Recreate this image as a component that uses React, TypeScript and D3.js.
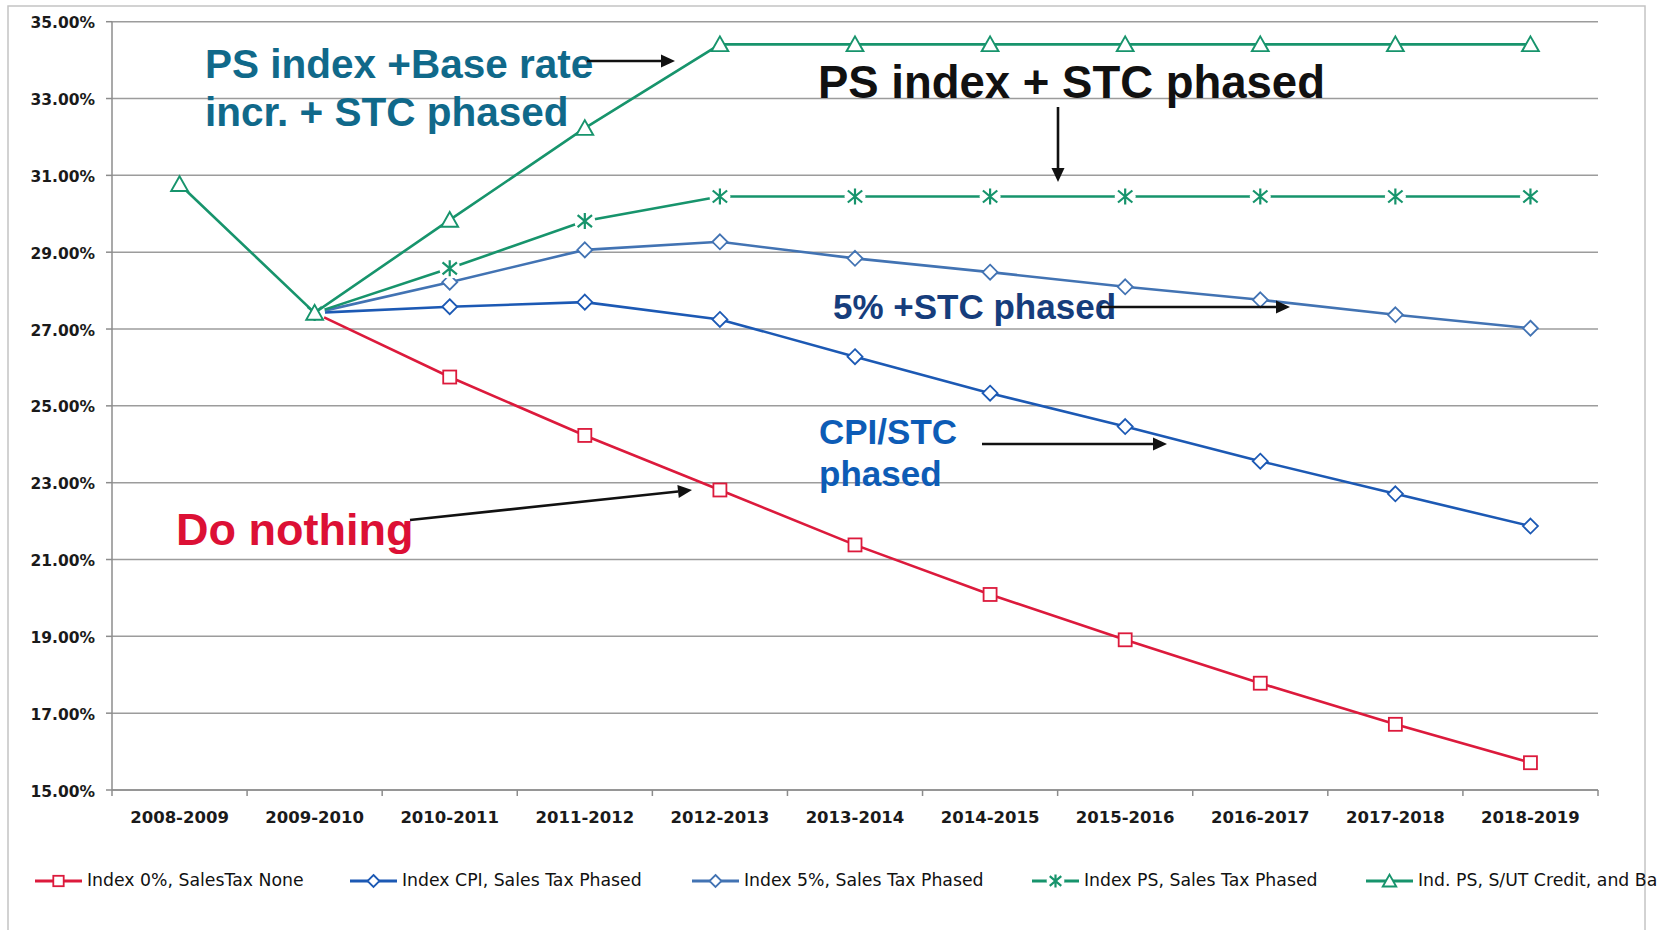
import React from "react";
import * as d3 from "d3";

const categories = [
  "2008-2009", "2009-2010", "2010-2011", "2011-2012", "2012-2013", "2013-2014",
  "2014-2015", "2015-2016", "2016-2017", "2017-2018", "2018-2019",
];
const index0 = [null, 27.42, 25.75, 24.23, 22.81, 21.38, 20.09, 18.91, 17.78, 16.71, 15.71];
const indexCPI = [null, 27.42, 27.58, 27.7, 27.25, 26.28, 25.33, 24.46, 23.56, 22.71, 21.87];
const index5 = [null, 27.42, 28.22, 29.06, 29.27, 28.84, 28.48, 28.1, 27.76, 27.37, 27.02];
const indexPS = [null, 27.42, 28.58, 29.81, 30.45, 30.45, 30.45, 30.45, 30.45, 30.45, 30.45];
const indPSCredit = [30.77, 27.42, 29.84, 32.23, 34.41, 34.41, 34.41, 34.41, 34.41, 34.41, 34.41];
const yTicks = [15, 17, 19, 21, 23, 25, 27, 29, 31, 33, 35];

const seriesNames = [
  "Index 0%, SalesTax None",
  "Index CPI, Sales Tax Phased",
  "Index 5%, Sales Tax Phased",
  "Index PS, Sales Tax Phased",
  "Ind. PS, S/UT Credit, and Ba",
];
const seriesValues = [index0, indexCPI, index5, indexPS, indPSCredit];
const seriesColors = ["#dc1a3c", "#1c59b4", "#4273b3", "#17946c", "#17946c"];
const seriesMarkers = ["square", "diamond", "diamond", "asterisk", "triangle"];

const W = 1665;
const H = 930;
const M = { left: 112, right: 1598, top: 21.7, bottom: 790 };
const legendX = [35, 350, 692, 1032, 1366];
const legendY = 881;

function Marker({ type, x, y, color, s = 1 }: { type: string; x: number; y: number; color: string; s?: number }) {
  if (type === "square") {
    const h = 6.5 * s;
    return <rect x={x - h} y={y - h} width={2 * h} height={2 * h} fill="#fff" stroke={color} strokeWidth={1.8} />;
  }
  if (type === "diamond") {
    const h = 7.5 * s;
    return (
      <path d={`M${x},${y - h}L${x + h},${y}L${x},${y + h}L${x - h},${y}Z`} fill="#fff" stroke={color} strokeWidth={1.8} />
    );
  }
  if (type === "triangle") {
    const h = 8 * s;
    return (
      <path d={`M${x},${y - h}L${x + h * 1.05},${y + h * 0.85}L${x - h * 1.05},${y + h * 0.85}Z`} fill="#fff" stroke={color} strokeWidth={1.9} />
    );
  }
  // asterisk
  const h = 8 * s;
  return (
    <g>
      <circle cx={x} cy={y} r={h + 2.5} fill="#fff" />
      <path
        d={`M${x},${y - h}L${x},${y + h}M${x - h * 0.9},${y - h * 0.75}L${x + h * 0.9},${y + h * 0.75}M${x - h * 0.9},${y + h * 0.75}L${x + h * 0.9},${y - h * 0.75}`}
        stroke={color}
        strokeWidth={2.2}
        fill="none"
      />
    </g>
  );
}

function Arrow({ x1, y1, x2, y2 }: { x1: number; y1: number; x2: number; y2: number }) {
  const ang = Math.atan2(y2 - y1, x2 - x1);
  const L = 14;
  const Wd = 6.5;
  const bx = x2 - L * Math.cos(ang);
  const by = y2 - L * Math.sin(ang);
  const px = -Math.sin(ang) * Wd;
  const py = Math.cos(ang) * Wd;
  return (
    <g>
      <line x1={x1} y1={y1} x2={bx} y2={by} stroke="#111" strokeWidth={2.6} />
      <path d={`M${x2},${y2}L${bx + px},${by + py}L${bx - px},${by - py}Z`} fill="#111" />
    </g>
  );
}

export default function App() {
  const x = d3.scaleBand<string>().domain(categories).range([M.left, M.right]).padding(0);
  const cx = (c: string) => (x(c) as number) + x.bandwidth() / 2;
  const y = d3.scaleLinear().domain([15, 35]).range([M.bottom, M.top]);

  const line = d3
    .line<number | null>()
    .defined((d) => d != null)
    .x((_, i) => cx(categories[i]))
    .y((d) => y(d as number));

  const tickXs = categories.map((c) => x(c) as number).concat([M.right]);
  const annFont = "'Liberation Sans', Arial, sans-serif";
  const axisFont = "'DejaVu Sans', Verdana, sans-serif";

  return (
    <svg width={W} height={H} style={{ position: "absolute", left: 0, top: 0, background: "#fff" }}>
      <rect x={0} y={0} width={W} height={H} fill="#fff" />
      <rect x={8} y={6} width={1637} height={940} fill="none" stroke="#c4c4c4" strokeWidth={1.5} />

      {/* gridlines */}
      {yTicks.map((t) => (
        <line key={t} x1={M.left} x2={M.right} y1={y(t)} y2={y(t)} stroke="#9c9c9c" strokeWidth={1.5} />
      ))}
      {/* y axis */}
      <line x1={M.left} x2={M.left} y1={M.top} y2={M.bottom} stroke="#8c8c8c" strokeWidth={1.5} />
      {yTicks.map((t) => (
        <g key={"yt" + t}>
          <line x1={M.left - 6} x2={M.left} y1={y(t)} y2={y(t)} stroke="#8c8c8c" strokeWidth={1.5} />
          <text
            x={95}
            y={y(t) + 2}
            textAnchor="end"
            dominantBaseline="middle"
            fontFamily={axisFont}
            fontWeight="bold"
            fontSize={15.5}
            fill="#1a1a1a"
          >
            {t.toFixed(2)}%
          </text>
        </g>
      ))}
      {/* x axis */}
      <line x1={M.left} x2={M.right} y1={M.bottom} y2={M.bottom} stroke="#8c8c8c" strokeWidth={1.5} />
      {tickXs.map((tx, i) => (
        <line key={"xt" + i} x1={tx} x2={tx} y1={M.bottom} y2={M.bottom + 6} stroke="#8c8c8c" strokeWidth={1.5} />
      ))}
      {categories.map((c) => (
        <text
          key={c}
          x={cx(c)}
          y={818}
          textAnchor="middle"
          dominantBaseline="middle"
          fontFamily={axisFont}
          fontWeight="bold"
          fontSize={16.5}
          fill="#1a1a1a"
        >
          {c}
        </text>
      ))}

      {/* series */}
      {seriesValues.map((vals, si) => (
        <g key={"s" + si}>
          <path d={line(vals) || ""} fill="none" stroke={seriesColors[si]} strokeWidth={2.6} />
          {vals.map((v, i) =>
            v == null ? null : (
              <Marker key={i} type={seriesMarkers[si]} x={cx(categories[i])} y={y(v)} color={seriesColors[si]} />
            )
          )}
        </g>
      ))}

      {/* annotations */}
      <g fontFamily={annFont} fontWeight="bold">
        <text x={205} y={78} fontSize={40.5} fill="#10698a">PS index +Base rate</text>
        <text x={205} y={126} fontSize={40.5} fill="#10698a">incr. + STC phased</text>
        <text x={818} y={98} fontSize={45.5} fill="#111">PS index + STC phased</text>
        <text x={833} y={319} fontSize={35} fill="#163d7c">5% +STC phased</text>
        <text x={819} y={444} fontSize={35} fill="#0d5cb6">CPI/STC</text>
        <text x={819} y={486} fontSize={35} fill="#0d5cb6">phased</text>
        <text x={176} y={545} fontSize={45} fill="#dc1035">Do nothing</text>
      </g>
      <Arrow x1={587} y1={61} x2={675} y2={61} />
      <Arrow x1={1058} y1={107} x2={1058} y2={182} />
      <Arrow x1={1100} y1={307} x2={1290} y2={307} />
      <Arrow x1={982} y1={444} x2={1167} y2={444} />
      <Arrow x1={410} y1={520} x2={692} y2={490} />

      {/* legend */}
      {seriesNames.map((n, i) => (
        <g key={"lg" + i}>
          <line x1={legendX[i]} x2={legendX[i] + 47} y1={legendY} y2={legendY} stroke={seriesColors[i]} strokeWidth={3} />
          <Marker type={seriesMarkers[i]} x={legendX[i] + 23.5} y={legendY} color={seriesColors[i]} s={0.8} />
          <text
            x={legendX[i] + 52}
            y={legendY}
            dominantBaseline="middle"
            fontFamily={axisFont}
            fontSize={17.3}
            fill="#111"
          >
            {n}
          </text>
        </g>
      ))}
    </svg>
  );
}
